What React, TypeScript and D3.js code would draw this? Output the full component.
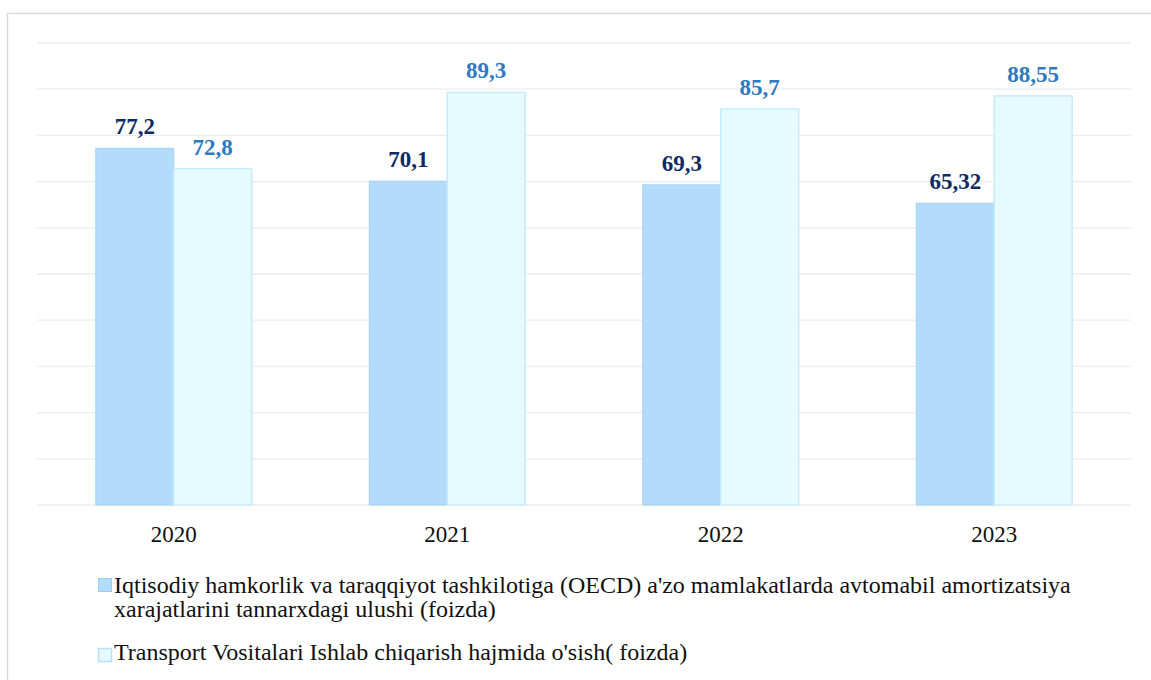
import React from 'react';
import * as d3 from 'd3';

const years = ['2020', '2021', '2022', '2023'];
const oecdShare = [77.2, 70.1, 69.3, 65.32];
const transportGrowth = [72.8, 89.3, 85.7, 88.55];
const oecdLabels = ['77,2', '70,1', '69,3', '65,32'];
const transportLabels = ['72,8', '89,3', '85,7', '88,55'];
const legendOecd = [
  "Iqtisodiy hamkorlik va taraqqiyot tashkilotiga (OECD) a'zo mamlakatlarda avtomabil amortizatsiya",
  'xarajatlarini tannarxdagi ulushi (foizda)',
];
const legendTransport = "Transport Vositalari Ishlab chiqarish hajmida o'sish( foizda)";

const W = 1151;
const H = 680;
const margin = { top: 43, right: 20, bottom: 175, left: 37 };
const font = "'Liberation Serif', 'Times New Roman', serif";

const App: React.FC = () => {
  const x = d3.scaleBand()
    .domain(years)
    .range([margin.left, W - margin.right])
    .paddingInner(0.43)
    .paddingOuter(0.215);

  const y = d3.scaleLinear()
    .domain([0, 100])
    .range([H - margin.bottom, margin.top]);

  const half = x.bandwidth() / 2;
  const ticks = y.ticks(10);

  return (
    <svg width={W} height={H} style={{ position: 'absolute', left: 0, top: 0, background: '#fff', fontFamily: font }}>
      <rect x={7.5} y={13.5} width={W} height={H} fill="#fff" stroke="#d9d9d9" strokeWidth={1.5} />
      {ticks.map(t => (
        <line key={t} x1={margin.left} x2={W - margin.right} y1={y(t)} y2={y(t)} stroke="#ececec" strokeWidth={1.3} />
      ))}
      {years.map((yr, i) => {
        const x0 = x(yr)!;
        return (
          <g key={yr}>
            <rect x={x0} y={y(oecdShare[i])} width={half} height={y(0) - y(oecdShare[i])}
              fill="#b3dcfa" stroke="#a6d2f5" strokeWidth={1} />
            <rect x={x0 + half} y={y(transportGrowth[i])} width={half} height={y(0) - y(transportGrowth[i])}
              fill="#e5fbff" stroke="#c6ecfb" strokeWidth={1.5} />
            <text x={x0 + half / 2} y={y(oecdShare[i]) - 14} textAnchor="middle" style={{ fontFamily: font }}
              fontWeight="bold" fontSize={23} fill="#0e2a63">{oecdLabels[i]}</text>
            <text x={x0 + half * 1.5} y={y(transportGrowth[i]) - 14} textAnchor="middle" style={{ fontFamily: font }}
              fontWeight="bold" fontSize={23} fill="#2f79bf">{transportLabels[i]}</text>
            <text x={x0 + half} y={y(0) + 37} textAnchor="middle" style={{ fontFamily: font }} fontSize={23} fill="#111">{yr}</text>
          </g>
        );
      })}
      <g style={{ fontFamily: font }} fontSize={24} fill="#111">
        <rect x={98.5} y={578.5} width={13} height={13} fill="#b3dcfa" stroke="#9ccbf0" />
        <text x={114} y={593}>{legendOecd[0]}</text>
        <text x={114} y={617}>{legendOecd[1]}</text>
        <rect x={98.5} y={648.5} width={13} height={13} fill="#e5fbff" stroke="#b6e2fb" strokeWidth={1.5} />
        <text x={114} y={660}>{legendTransport}</text>
      </g>
    </svg>
  );
};

export default App;
